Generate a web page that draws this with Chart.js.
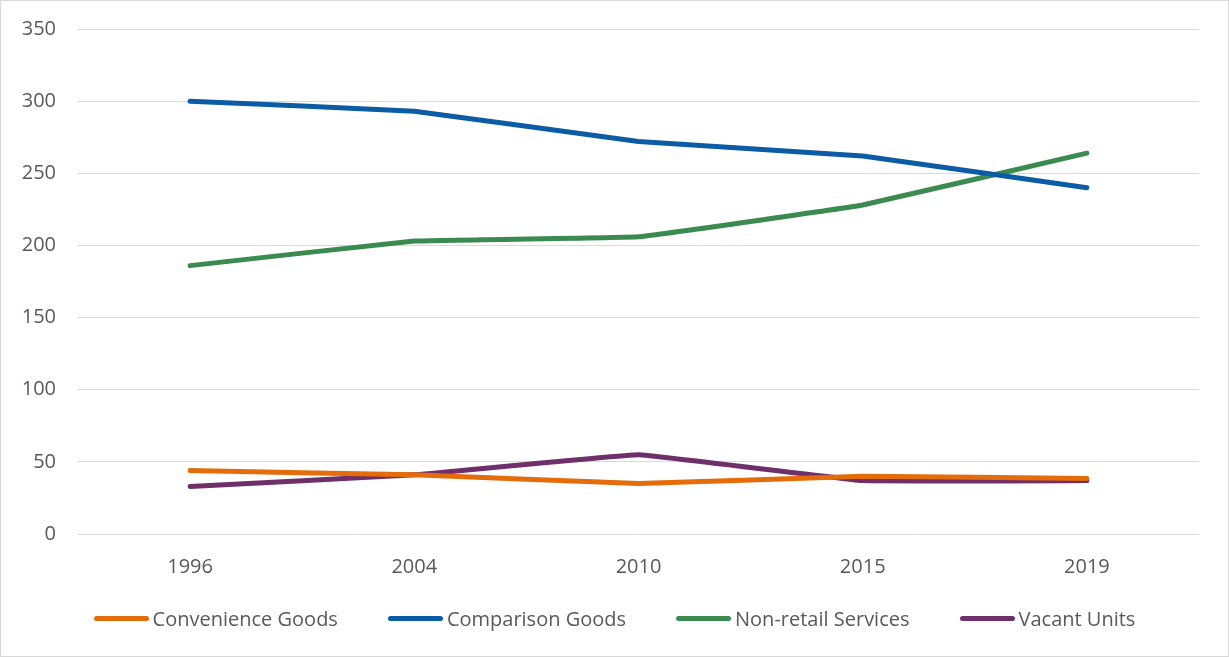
<!DOCTYPE html>
<html>
<head>
<meta charset="utf-8">
<script src="https://cdn.jsdelivr.net/npm/chart.js@4"></script>
<style>
  html, body { margin: 0; padding: 0; background: #fff; }
  #wrap {
    width: 1229px; height: 657px;
    box-sizing: border-box;
    border: 1px solid #d9d9d9;
    position: relative;
  }
  #legend {
    position: absolute; left: 0; right: 0; top: 604px;
    display: flex; justify-content: center; align-items: center;
    font: 20px "Open Sans", sans-serif; color: #595959;
  }
  #legend .item { display: flex; align-items: center; margin: 0 25px; }
  #legend .swatch { width: 55px; height: 5px; border-radius: 3px; margin-right: 4px; }
</style>
</head>
<body>
<div id="wrap">
  <canvas id="retailChart"></canvas>
  <div id="legend"></div>
</div>
<script>
// Survey years and unit counts per category
const years = ['1996', '2004', '2010', '2015', '2019'];
const convenienceGoods = [44, 41, 35, 40, 38.5];
const comparisonGoods = [300, 293, 272, 262, 240];
const nonRetailServices = [186, 203, 206, 228, 264];
const vacantUnits = [33, 41, 55, 37, 37];

const FONT = '"Open Sans", sans-serif';
const TEXT = '#595959';

function series(label, data, color) {
    return {
        label: label,
        data: data,
        borderColor: color,
        backgroundColor: color,
        borderWidth: 5,
        borderCapStyle: 'round',
        borderJoinStyle: 'round',
        pointRadius: 0,
        pointHoverRadius: 0,
        tension: 0.06
    };
}

const ctx = document.getElementById('retailChart').getContext('2d');
const chart = new Chart(ctx, {
    type: 'line',
    data: {
        labels: years,
        datasets: [
            series('Convenience Goods', convenienceGoods, '#E46C0A'),
            series('Comparison Goods', comparisonGoods, '#0B5CA4'),
            series('Non-retail Services', nonRetailServices, '#3B8A50'),
            series('Vacant Units', vacantUnits, '#6F2F6A')
        ]
    },
    options: {
        responsive: true,
        maintainAspectRatio: false,
        animation: false,
        layout: {
            padding: { top: 28, right: 29, bottom: 64, left: 0 }
        },
        plugins: {
            legend: { display: false },
            tooltip: { enabled: false }
        },
        scales: {
            x: {
                offset: true,
                grid: { display: false },
                border: { display: false },
                ticks: {
                    color: TEXT,
                    padding: 13,
                    font: { family: FONT, size: 20 }
                }
            },
            y: {
                min: 0,
                max: 350,
                border: { display: false },
                grid: { color: '#d9d9d9', lineWidth: 1, drawTicks: false },
                ticks: {
                    stepSize: 50,
                    color: TEXT,
                    padding: 22,
                    font: { family: FONT, size: 20 }
                },
                afterFit(scale) {
                    // fixed axis width; let layout padding alone set the top
                    scale.width = 77;
                    scale.paddingTop = 0;
                    scale.paddingBottom = 0;
                }
            }
        }
    }
});

// HTML legend built from the chart's datasets
const legendEl = document.getElementById('legend');
chart.data.datasets.forEach(ds => {
    const item = document.createElement('div');
    item.className = 'item';
    const sw = document.createElement('span');
    sw.className = 'swatch';
    sw.style.background = ds.borderColor;
    const txt = document.createElement('span');
    txt.textContent = ds.label;
    item.appendChild(sw);
    item.appendChild(txt);
    legendEl.appendChild(item);
});
</script>
</body>
</html>
